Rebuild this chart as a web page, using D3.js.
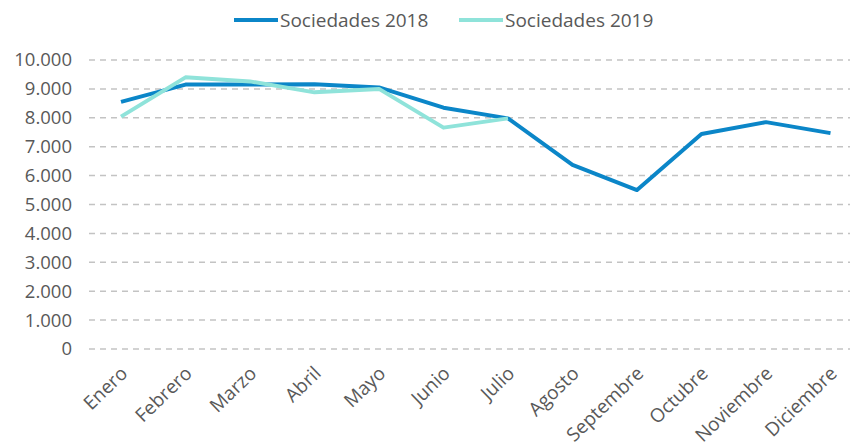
<!DOCTYPE html>
<html><head><meta charset="utf-8">
<script src="https://cdn.jsdelivr.net/npm/d3@7/dist/d3.min.js"></script>
<style>
body{margin:0;background:#fff;}
svg text{font-family:"Open Sans",sans-serif;fill:#595959;}
</style></head>
<body><svg id="c" width="850" height="448"></svg>
<script>
const months = ["Enero","Febrero","Marzo","Abril","Mayo","Junio","Julio","Agosto","Septembre","Octubre","Noviembre","Diciembre"];
const soc2018 = [8550,9150,9150,9160,9050,8350,7980,6370,5500,7440,7850,7470];
const soc2019 = [8040,9400,9260,8880,9000,7660,7980];
const yTicks = [0,1000,2000,3000,4000,5000,6000,7000,8000,9000,10000];
const seriesNames = ["Sociedades 2018","Sociedades 2019"];
const colors = ["#0b86c8","#8fe3da"];

const svg = d3.select("#c");
const x = d3.scalePoint().domain(months).range([121, 830.5]);
const y = d3.scaleLinear().domain([0,10000]).range([349, 60]);
const fmt = v => d3.format(",")(v).replace(/,/g,".");

// gridlines
svg.append("g").selectAll("line").data(yTicks).join("line")
  .attr("x1", 89).attr("x2", 850)
  .attr("y1", d=>y(d)).attr("y2", d=>y(d))
  .attr("stroke","#c3c3c3").attr("stroke-width",1.5)
  .attr("stroke-dasharray","6,5");

// y axis labels
const yAxis = d3.axisLeft(y).tickValues(yTicks).tickFormat(fmt).tickSize(0).tickPadding(0);
const gy = svg.append("g").attr("transform","translate(72,0)").call(yAxis);
gy.select(".domain").remove();
gy.selectAll("text").style("font-size","18.5px").attr("fill","#595959");

// x axis labels
const xAxis = d3.axisBottom(x).tickSize(0).tickPadding(0);
const gx = svg.append("g").call(xAxis);
gx.select(".domain").remove();
gx.selectAll(".tick").attr("transform", d=>`translate(${x(d)+3},370)`);
gx.selectAll("text").attr("y",0).attr("dy","0.35em").attr("transform","rotate(-44)")
  .style("text-anchor","end").style("font-size","19px").attr("fill","#595959");

// lines
const line = d3.line().x((d,i)=>x(months[i])).y(d=>y(d));
[soc2018, soc2019].forEach((s,k)=>{
  svg.append("path").datum(s).attr("d", line)
    .attr("fill","none").attr("stroke",colors[k]).attr("stroke-width",4)
    .attr("stroke-linejoin","round");
});

// legend
const leg = [{x:234, tx:280},{x:459, tx:505}];
seriesNames.forEach((n,k)=>{
  svg.append("line").attr("x1",leg[k].x).attr("x2",leg[k].x+44).attr("y1",20).attr("y2",20)
    .attr("stroke",colors[k]).attr("stroke-width",4);
  svg.append("text").attr("x",leg[k].tx).attr("y",20).attr("dy","0.35em")
    .style("font-size","19px").text(n);
});
</script></body></html>
